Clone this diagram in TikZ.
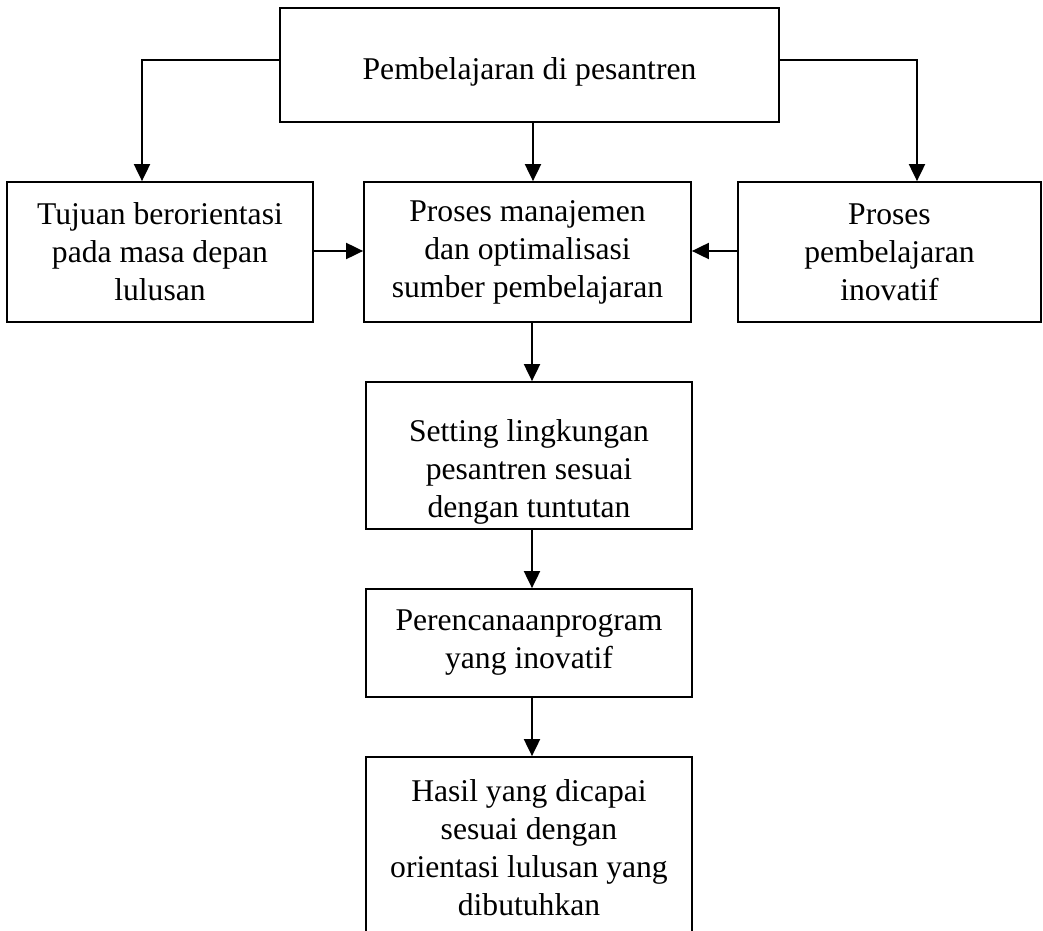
\documentclass[tikz,border=0pt]{standalone}
\usepackage{fontspec}
\setmainfont{Liberation Serif}
\usetikzlibrary{arrows.meta}
\begin{document}
\begin{tikzpicture}[
  x=1cm,y=1cm,
  box/.style={draw=black, line width=1pt, rectangle, align=center, inner sep=0pt,
              font=\fontsize{18}{21.6}\selectfont},
  txt/.style={align=center, inner sep=0pt, font=\fontsize{18}{21.6}\selectfont},
  arr/.style={draw=black, line width=1.1pt, -{Triangle[width=0.32cm,length=0.34cm]}}
]
\clip (0,0) rectangle (20.86,-18.62);
\fill[white] (0,0) rectangle (20.86,-18.62);

\node[box, minimum width=9.98cm, minimum height=2.28cm] (top) at (10.59,-1.30) {};
\node[txt] (toptxt) at ([yshift=-0.13cm]top.center) {Pembelajaran di pesantren};
\node[box, minimum width=6.12cm, minimum height=2.80cm] (left) at (3.20,-5.04) {Tujuan berorientasi\\pada masa depan\\lulusan};
\node[box, minimum width=6.54cm, minimum height=2.80cm] (mid) at (10.55,-5.04) {Proses manajemen\\dan optimalisasi\\sumber pembelajaran};
\node[box, minimum width=6.06cm, minimum height=2.80cm] (right) at (17.79,-5.04) {Proses\\pembelajaran\\inovatif};
\node[box, minimum width=6.52cm, minimum height=2.94cm] (set) at (10.58,-9.11) {};
\node[txt] (settxt) at ([yshift=-0.32cm]set.center) {Setting lingkungan\\pesantren sesuai\\dengan tuntutan};
\node[box, minimum width=6.52cm, minimum height=2.16cm] (per) at (10.58,-12.86) {Perencanaanprogram\\yang inovatif};
\node[box, minimum width=6.52cm, minimum height=3.64cm] (has) at (10.58,-16.96) {Hasil yang dicapai\\sesuai dengan\\orientasi lulusan yang\\dibutuhkan};

\draw[arr] ([yshift=0.1cm]top.west) -| ([xshift=-0.36cm]left.north);
\draw[arr] ([yshift=0.1cm]top.east) -| ([xshift=0.55cm]right.north);
\draw[arr] ([xshift=0.07cm]top.south) -- ([xshift=0.07cm]top.south |- mid.north);
\draw[arr] ([yshift=0.02cm]left.east) -- ([yshift=0.02cm]mid.west);
\draw[arr] ([yshift=0.02cm]right.west) -- ([yshift=0.02cm]mid.east);
\draw[arr] ([xshift=0.09cm]mid.south) -- ([xshift=0.09cm]mid.south |- set.north);
\draw[arr] ([xshift=0.06cm]set.south) -- ([xshift=0.06cm]per.north);
\draw[arr] ([xshift=0.06cm]per.south) -- ([xshift=0.06cm]has.north);
\end{tikzpicture}
\end{document}
